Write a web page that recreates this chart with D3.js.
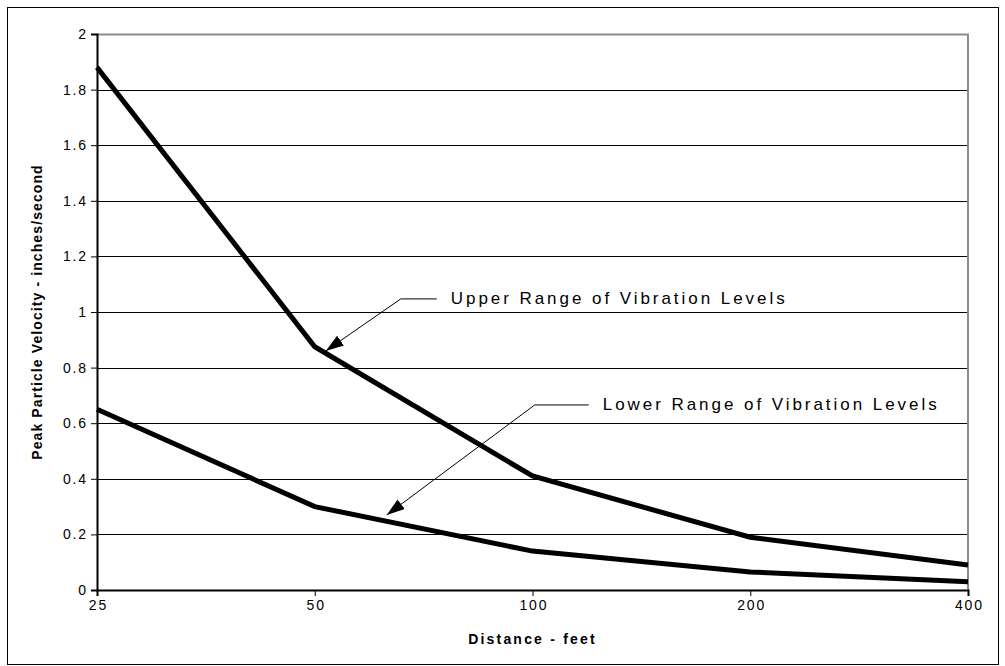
<!DOCTYPE html>
<html>
<head>
<meta charset="utf-8">
<script src="https://cdn.jsdelivr.net/npm/d3@7"></script>
<style>
  body { margin: 0; background: #fff; }
  svg { display: block; font-family: Arial, "Liberation Sans", sans-serif; }
</style>
</head>
<body>
<div id="wrapper"></div>
<script>
// data
const distances = ["25", "50", "100", "200", "400"]
const upperRange = [1.88, 0.875, 0.41, 0.19, 0.09]
const lowerRange = [0.65, 0.30, 0.14, 0.065, 0.03]
const yTicks = [0, 0.2, 0.4, 0.6, 0.8, 1, 1.2, 1.4, 1.6, 1.8, 2]

function drawChart() {
  const dimensions = {
    width: 1005,
    height: 666,
    margin: { top: 34, right: 37, bottom: 76, left: 97 },
  }
  dimensions.boundedWidth = dimensions.width - dimensions.margin.left - dimensions.margin.right
  dimensions.boundedHeight = dimensions.height - dimensions.margin.top - dimensions.margin.bottom

  const wrapper = d3.select("#wrapper")
    .append("svg")
    .attr("width", dimensions.width)
    .attr("height", dimensions.height)

  // outer frame
  wrapper.append("rect")
    .attr("x", 7.5).attr("y", 7.5)
    .attr("width", 991).attr("height", 657)
    .attr("fill", "none")
    .attr("stroke", "#000")
    .attr("stroke-width", 1)

  const bounds = wrapper.append("g")
    .attr("transform", `translate(${dimensions.margin.left}, ${dimensions.margin.top})`)

  // scales
  const xScale = d3.scalePoint()
    .domain(distances)
    .range([0, dimensions.boundedWidth])
    .padding(0)

  const yScale = d3.scaleLinear()
    .domain([0, 2])
    .range([dimensions.boundedHeight, 0])

  // gridlines
  bounds.append("g")
    .selectAll("line")
    .data(yTicks.filter(d => d > 0 && d < 2))
    .join("line")
    .attr("x1", 0)
    .attr("x2", dimensions.boundedWidth)
    .attr("y1", d => Math.round(yScale(d)) + 0.5)
    .attr("y2", d => Math.round(yScale(d)) + 0.5)
    .attr("stroke", "#000")
    .attr("stroke-width", 1)

  // plot area border (top + right, gray)
  bounds.append("path")
    .attr("d", `M0,0.5H${dimensions.boundedWidth}V${dimensions.boundedHeight}`)
    .attr("fill", "none")
    .attr("stroke", "#8c8c8c")
    .attr("stroke-width", 2)

  // axes
  const yAxis = d3.axisLeft(yScale)
    .tickValues(yTicks)
    .tickFormat(d3.format("~g"))
    .tickSize(6)
    .tickPadding(5)

  const yAxisGroup = bounds.append("g").call(yAxis)

  const xAxis = d3.axisBottom(xScale)
    .tickSize(6)
    .tickPadding(4)

  const xAxisGroup = bounds.append("g")
    .attr("transform", `translate(0, ${dimensions.boundedHeight})`)
    .call(xAxis)

  ;[yAxisGroup, xAxisGroup].forEach(g => {
    g.select(".domain").attr("stroke", "#000").attr("stroke-width", 2)
    g.selectAll(".tick line").attr("stroke", "#000").attr("stroke-width", 1)
    g.selectAll(".tick text")
      .attr("fill", "#000")
      .style("font-size", "14px")
      .style("letter-spacing", "1.8px")
      .style("font-family", "Arial, 'Liberation Sans', sans-serif")
  })
  xAxisGroup.selectAll(".tick text").attr("dx", "0.9px")
  yAxisGroup.selectAll(".tick text").attr("dx", "1.8px")

  // series lines
  const lineGen = d3.line()
    .x((d, i) => xScale(distances[i]))
    .y(d => yScale(d))

  bounds.selectAll(".series")
    .data([upperRange, lowerRange])
    .join("path")
    .attr("class", "series")
    .attr("d", lineGen)
    .attr("fill", "none")
    .attr("stroke", "#000")
    .attr("stroke-width", 5)
    .attr("stroke-linejoin", "miter")

  // axis titles
  wrapper.append("text")
    .attr("x", dimensions.margin.left + dimensions.boundedWidth / 2)
    .attr("y", 644)
    .attr("text-anchor", "middle")
    .style("font-size", "14px")
    .style("font-weight", "bold")
    .style("letter-spacing", "2.2px")
    .text("Distance - feet")

  wrapper.append("text")
    .attr("transform", `translate(42, ${dimensions.margin.top + dimensions.boundedHeight / 2}) rotate(-90)`)
    .attr("text-anchor", "middle")
    .style("font-size", "14px")
    .style("font-weight", "bold")
    .style("letter-spacing", "1.1px")
    .text("Peak Particle Velocity - inches/second")

  // annotations with arrows
  wrapper.append("defs").append("marker")
    .attr("id", "arrowhead")
    .attr("viewBox", "0 0 18 12")
    .attr("refX", 18).attr("refY", 6)
    .attr("markerWidth", 18).attr("markerHeight", 12)
    .attr("markerUnits", "userSpaceOnUse")
    .attr("orient", "auto")
    .append("path")
    .attr("d", "M0,0L18,6L0,12Z")
    .attr("fill", "#000")

  const annotations = [
    {
      label: "Upper Range of Vibration Levels",
      tip: [xScale("50") + 11, yScale(0.86)],
      elbow: [75, -52], run: 36,
    },
    {
      label: "Lower Range of Vibration Levels",
      tip: [xScale("50") + 72, yScale(0.27)],
      elbow: [148, -110], run: 54,
    },
  ]

  const notes = bounds.selectAll(".note")
    .data(annotations)
    .join("g")
    .attr("class", "note")

  notes.append("path")
    .attr("d", d => {
      const ex = d.tip[0] + d.elbow[0]
      const ey = d.tip[1] + d.elbow[1]
      return `M${ex + d.run},${ey}L${ex},${ey}L${d.tip[0]},${d.tip[1]}`
    })
    .attr("fill", "none")
    .attr("stroke", "#000")
    .attr("stroke-width", 1)
    .attr("marker-end", "url(#arrowhead)")

  notes.append("text")
    .attr("x", d => d.tip[0] + d.elbow[0] + d.run + 14)
    .attr("y", d => d.tip[1] + d.elbow[1] + 5)
    .style("font-size", "17px")
    .style("letter-spacing", "2.95px")
    .attr("fill", "#000")
    .text(d => d.label)
}

drawChart()
</script>
</body>
</html>
